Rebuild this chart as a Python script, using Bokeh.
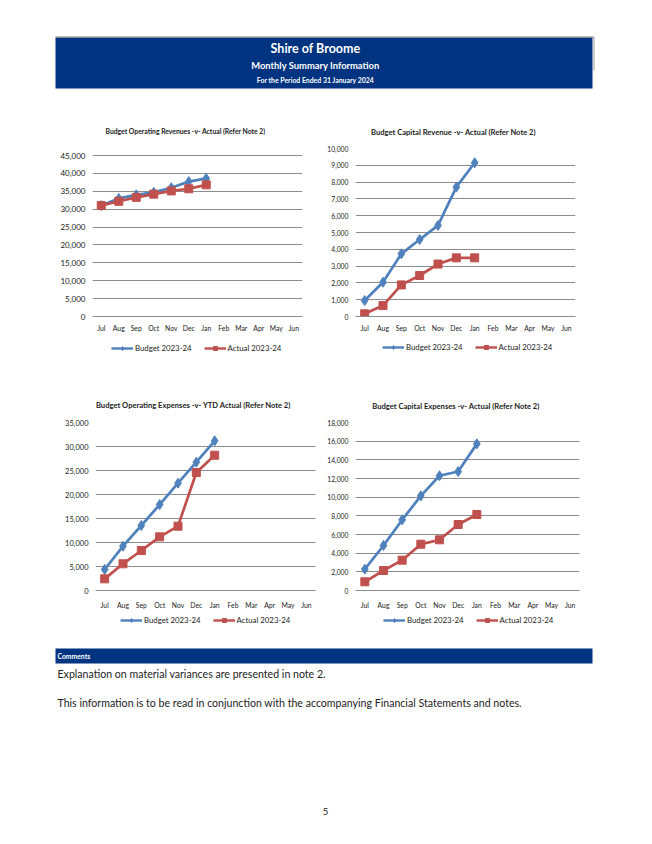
from bokeh.plotting import figure
from bokeh.layouts import column, row
from bokeh.models import (Range1d, FactorRange, NumeralTickFormatter, FixedTicker,
                          Legend, LegendItem)
from bokeh.embed import file_html
from bokeh.resources import INLINE
from bokeh.core.properties import value

# ---------------- data ----------------
months = ["Jul", "Aug", "Sep", "Oct", "Nov", "Dec", "Jan", "Feb", "Mar", "Apr", "May", "Jun"]
ytd_months = ["Jul", "Aug", "Sep", "Oct", "Nov", "Dec", "Jan"]

op_rev_budget = [31000, 33000, 34000, 34700, 36000, 37700, 38600]
op_rev_actual = [31000, 32200, 33300, 34200, 35100, 35700, 36800]
op_rev_ticks = [0, 5000, 10000, 15000, 20000, 25000, 30000, 35000, 40000, 45000]

cap_rev_budget = [950, 2040, 3730, 4580, 5420, 7700, 9150]
cap_rev_actual = [160, 650, 1880, 2440, 3120, 3490, 3490]
cap_rev_ticks = [0, 1000, 2000, 3000, 4000, 5000, 6000, 7000, 8000, 9000, 10000]

op_exp_budget = [4380, 9240, 13540, 17900, 22360, 26740, 31180]
op_exp_actual = [2430, 5560, 8330, 11180, 13400, 24580, 28190]
op_exp_ticks = [0, 5000, 10000, 15000, 20000, 25000, 30000, 35000]

cap_exp_budget = [2290, 4820, 7570, 10140, 12290, 12750, 15710]
cap_exp_actual = [930, 2140, 3250, 4960, 5430, 7070, 8140]
cap_exp_ticks = [0, 2000, 4000, 6000, 8000, 10000, 12000, 14000, 16000, 18000]

chart_titles = ["Budget Operating Revenues -v- Actual (Refer Note 2)",
                "Budget Capital Revenue -v- Actual (Refer Note 2)",
                "Budget Operating Expenses -v- YTD Actual (Refer Note 2)",
                "Budget Capital Expenses -v- Actual (Refer Note 2)"]
series_labels = ["Budget 2023-24", "Actual 2023-24"]

# ---------------- style ----------------
FONT = "Lato"
NAVY = "#003380"
BLUE = "#4F81BD"
RED = "#C0504D"
GRID = "#8C8C8C"
TXT = "#222222"
LW = 2.7


def blank(w, h):
    p = figure(width=w, height=h, x_range=Range1d(0, w), y_range=Range1d(h, 0),
               x_axis_type=None, y_axis_type=None, output_backend="svg",
               toolbar_location=None, min_border=0)
    p.outline_line_color = None
    p.grid.visible = False
    return p


def put_text(p, x, y, s, size, bold=False, color=TXT, align="left"):
    p.text(x=[x], y=[y], text=[s], text_align=align, text_baseline="middle",
           text_color=color, text_font=value(FONT), text_font_size=size,
           text_font_style="bold" if bold else "normal")


def add_legends(p, h, positions):
    # hidden swatch renderers, styled like the chart series, feed the legend boxes
    lb = p.line([0, 0], [0, 0], line_color=BLUE, line_width=2.4, visible=False)
    sb = p.scatter([0], [0], marker="diamond", size=8, color=BLUE, visible=False)
    la = p.line([0, 0], [0, 0], line_color=RED, line_width=2.4, visible=False)
    sa = p.scatter([0], [0], marker="square", size=7, color=RED, visible=False)
    for (lx, ly) in positions:
        leg = Legend(items=[LegendItem(label=series_labels[0], renderers=[lb, sb]),
                            LegendItem(label=series_labels[1], renderers=[la, sa])],
                     orientation="horizontal", location=(lx, h - ly - 5),
                     border_line_color=None, background_fill_alpha=0,
                     inactive_fill_alpha=0, click_policy="none",
                     label_text_font=FONT, label_text_font_size="7.8px",
                     label_text_color=TXT, glyph_width=22, glyph_height=10,
                     label_standoff=2, spacing=12, padding=0, margin=0,
                     label_height=10)
        p.add_layout(leg)


def chart(budget, actual, ticks, y_end, w, h, bl, br, bt, bb, ylab_size, xstand):
    p = figure(x_range=FactorRange(*months), y_range=Range1d(ticks[0], y_end),
               width=w, height=h,
               min_border_left=bl, min_border_right=br, min_border_top=bt, min_border_bottom=bb,
               output_backend="svg", toolbar_location=None)
    p.outline_line_color = None
    p.xgrid.visible = False
    p.ygrid.grid_line_color = GRID
    p.ygrid.grid_line_width = 1
    p.yaxis.ticker = FixedTicker(ticks=ticks)
    p.yaxis.formatter = NumeralTickFormatter(format="0,0")
    p.yaxis.axis_line_color = None
    p.yaxis.major_tick_line_color = None
    p.yaxis.major_tick_out = 0
    p.yaxis.minor_tick_line_color = None
    p.yaxis.major_label_text_font = FONT
    p.yaxis.major_label_text_font_size = ylab_size
    p.yaxis.major_label_text_color = TXT
    p.yaxis.major_label_standoff = 7
    p.xaxis.axis_line_color = GRID
    p.xaxis.major_tick_line_color = None
    p.xaxis.major_tick_out = 0
    p.xaxis.minor_tick_line_color = None
    p.xaxis.major_label_text_font = FONT
    p.xaxis.major_label_text_font_size = "6.8px"
    p.xaxis.major_label_text_color = TXT
    p.xaxis.major_label_standoff = xstand

    p.line(ytd_months, budget, line_color=BLUE, line_width=LW)
    p.scatter(ytd_months, budget, marker="diamond", size=10, color=BLUE)
    p.line(ytd_months, actual, line_color=RED, line_width=LW)
    p.scatter(ytd_months, actual, marker="square", size=8, color=RED)
    return p


# ---------------- header (page title + titles of the first two charts) ----------------
hdr = blank(652, 140)
hdr.quad(left=[55], right=[592], top=[37], bottom=[88], fill_color=NAVY, line_color=None)
hdr.segment(x0=[55], y0=[36.5], x1=[593.5], y1=[36.5], line_color="#7f7f7f", line_width=1)
hdr.segment(x0=[593.5], y0=[36.5], x1=[593.5], y1=[70], line_color="#9a9a9a", line_width=1)
put_text(hdr, 315, 47.5, "Shire of Broome", "12.5px", True, "white", "center")
put_text(hdr, 315, 64.5, "Monthly Summary Information", "9.4px", True, "white", "center")
put_text(hdr, 315, 79.5, "For the Period Ended 31 January 2024", "6.9px", True, "white", "center")
put_text(hdr, 185, 130, chart_titles[0], "6.8px", True, TXT, "center")
put_text(hdr, 453, 131, chart_titles[1], "7.6px", True, TXT, "center")

# ---------------- first row of charts ----------------
# both frames in the row share top/bottom; chart 1's top gridline (45,000) sits 7px lower
c1 = chart(op_rev_budget, op_rev_actual, op_rev_ticks, op_rev_ticks[-1] * 168 / 161,
           318, 200, 92, 16, 8, 24, "8px", 7)
c2 = chart(cap_rev_budget, cap_rev_actual, cap_rev_ticks, cap_rev_ticks[-1],
           334, 200, 37, 77, 8, 24, "6.8px", 7)

# ---------------- strip: legends of row 1, titles of row 2 ----------------
mid = blank(652, 75)
add_legends(mid, 75, [(111, 8), (382, 7)])
put_text(mid, 193, 64, chart_titles[2], "7.6px", True, TXT, "center")
put_text(mid, 455.5, 65, chart_titles[3], "7.6px", True, TXT, "center")

# ---------------- second row of charts ----------------
c3 = chart(op_exp_budget, op_exp_actual, op_exp_ticks, op_exp_ticks[-1],
           318, 197, 95, 3, 7, 22, "7.5px", 10)
c4 = chart(cap_exp_budget, cap_exp_actual, cap_exp_ticks, cap_exp_ticks[-1],
           334, 197, 37, 73, 7, 22, "6.8px", 10)

# ---------------- footer ----------------
ftr = blank(652, 232)
add_legends(ftr, 232, [(120, 8), (383, 8)])
ftr.quad(left=[55], right=[592], top=[36], bottom=[51], fill_color=NAVY, line_color=None)
put_text(ftr, 57, 43.5, "Comments", "6.8px", True, "white")
put_text(ftr, 57, 61, "Explanation on material variances are presented in note 2.", "10.6px")
put_text(ftr, 57, 90, "This information is to be read in conjunction with the accompanying "
         "Financial Statements and notes.", "10.6px")
put_text(ftr, 325, 199, "5", "9.5px", False, TXT, "center")

page = column(hdr, row(c1, c2), mid, row(c3, c4), ftr)

open("out.html", "w").write(file_html(page, INLINE))
